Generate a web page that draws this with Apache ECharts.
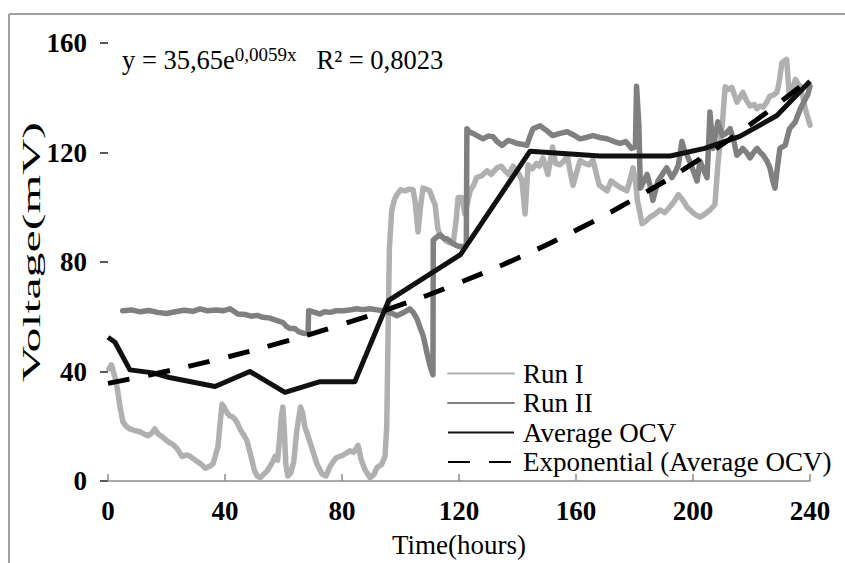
<!DOCTYPE html>
<html>
<head>
<meta charset="utf-8">
<script src="https://cdn.jsdelivr.net/npm/echarts@6/dist/echarts.min.js"></script>
<style>
  html, body { margin: 0; padding: 0; background: #fff; }
  #chart { width: 845px; height: 563px; }
</style>
</head>
<body>
<div id="chart"></div>
<script>
// ---------- data ----------
const xTicks = [0, 40, 80, 120, 160, 200, 240];
const yTicks = [0, 40, 80, 120, 160];

const runIHours = [0.3,1.2,2.4,3.3,4.1,5.1,6.2,7.5,9,10.9,12.3,13.7,15,16,17.3,18.5,20.5,22,23.6,25.3,27,28,30.4,32,33.2,35,36,37.6,38.4,39,39.6,40,41,41.7,42.5,43.4,44.3,45.1,46.3,47.5,48.4,49.2,50,51,52,53,54.3,55.4,56.3,57.1,58,58.6,59.3,59.8,60.3,60.8,61.5,62.5,63.5,64.5,65.2,65.8,66.5,67.3,68.5,70,71.5,73.2,74.5,76,78,80.3,82.7,84,85.5,86.5,87.9,89.6,91,92,93.5,94.7,95.3,95.7,96.2,97,98,98.8,100,101.5,103,104.3,105,106,106.8,107.7,109,110,111,111.8,112.8,113.5,114.5,115.9,117,118,119,119.7,121,122,123,123.8,125,126,127.8,129.6,131,133,134.5,135.7,137,138.5,140,141.5,142.6,143.6,145,146.5,147.5,148.7,150.4,152,153,154.5,156,157,158,159,160,161.4,163,164.5,165.8,167,168,170.6,172,174,175.5,177.4,178.5,179.5,180.3,181,182.6,184,185.3,187,188.7,190.3,192,193.5,195,196.6,198,199,200.5,202.4,204,205.8,207.5,208.5,209.3,210,211,212,213.3,215,216,217,218.3,219.5,221,221.9,223,224,225.3,226.3,227.5,228.7,229.5,230.4,231.3,232,232.5,233,234,235,236,236.7,237.6,238.4,239.2,240];
const runIVoltage = [41,42.4,37.8,33,27,21.6,20,19,18.5,18,17.2,16.5,17.5,19,17,16.2,14.4,13.5,11.9,9,9.5,9,7.2,6,4.7,5.5,6.5,12.6,22,28,27.2,26.2,24.5,23.7,23.5,22.6,21,19,17,14.7,11,7.6,4,1.8,1.2,2.2,3.5,5.4,7,9,7.6,15,24,27,18,6,1.8,3,7,18,23,27,25,19.8,16,11,6,2.5,1.8,5.5,8.5,9.4,11,10.5,13,8,4,1.2,2.5,5,6,9,20,50,85,98.9,103,104.6,106.4,106,106.6,106.4,102,91,100,107,106.5,106,103,101,92,90,89,87.4,87,86.7,95,103.6,103.6,97.5,102,106,108,110.8,111.5,113.3,112,114.4,115,113.3,112,115,113,110,97.5,115.5,114,116,115,118,112,122,116,115.5,117,119,113,108,112,117,116,115.5,117.3,112,108,106,109.6,108,107,106,110,114.4,110,102.5,94,95,96.4,97.5,99,98,100,102,104.6,102.5,100,99,97.5,96.4,97.5,99,101,115.4,124,130,144,143,143.8,138.4,140,142,139,137,137.5,136,137,136.6,138.5,140.6,141,142,146,152.8,153.5,154,147,139.5,143,146.7,145,144.2,140,136,133,130];

const runIIHours = [5,8,11,14,17,20,23,26,29,31.5,34,37,39.5,41.7,43,44.4,47,49,51,53,55.4,57.8,59.8,61,62.2,63.9,65.3,66.7,68.4,68.6,69.5,71,72.5,74,76,78,80.3,82.5,85,87,89.6,92,94,96.4,97.6,98.8,100,101,103.2,104.4,105.6,106.7,107.7,108.4,109,110,111.1,111.2,112.3,113.5,114.2,115,115.9,117,118,119.2,120.3,121.5,122.5,122.7,123.5,124.8,126.5,128.2,130,131.6,133,134.7,136.8,138.2,139.8,141.5,143.2,144.3,145.3,147.7,150,152,154.5,157,159,161.4,163.5,165.8,168,170.6,173,175,177,179,180.3,180.7,181.5,182,183,184.3,185.3,186.3,188,189.5,191,192.8,194,195,196.2,197,198,199.7,201.4,202.4,203.5,204.8,205.3,205.8,206.8,207.6,208.5,210,211.3,212.7,214,215,216,217,218.3,219.5,220.7,221.9,223,224,225.2,226.3,227.2,228,228.8,229.7,231.5,233,235,236.7,238.4,239.2,240];
const runIIVoltage = [62.2,62.5,61.8,62.3,61.6,61.2,61.8,62.4,62,62.9,62.2,62.5,62.2,62.9,62,61,60.8,60.2,60.5,59.8,59.5,58.6,57.9,56.5,55.7,55.7,54.5,54,53.8,62.2,62,61.5,61,61.8,61.6,62.2,62.2,62.5,62.9,62.6,62.9,62.5,62.2,61.5,61,60.4,61,61.5,62.9,61.5,59.3,56,53.2,50,47,42.4,38.8,88,89,89.9,89.2,88.5,88.5,87.5,86.7,86,85.6,85.8,86,128.7,127.5,127,126,125,126,125.8,124,122.6,124.4,124,123.3,123,122.6,126,128.7,129.8,128,126.2,127,127.6,126.5,125,125.5,126.2,125.5,125,124,123.3,124,121.5,122,144.2,130,107,109,112,108,102.5,109.6,112,114.4,110.8,113,115.4,124,121,119,114.4,109.6,116.9,114,110.8,122,134.8,121.5,126,131.2,126.2,127,128.7,124,119,120,121.5,120,118,120,121.5,120,119,117,114.4,110,107,114,121.5,122.6,128.7,131.2,136,139.5,141,144.2];

const avgHours = [0,2.4,7.5,15.4,21,36.6,48.5,60.5,72.5,84.4,96,120.5,144.3,168.2,192.2,204,216,228.7,240];
const avgVoltage = [52.5,50.7,40.6,39.5,37.8,34.5,40,32.4,36.3,36.3,66,82.7,120.5,118.7,118.7,121.5,125.9,133.5,146];

// Exponential trendline y = 35.65 e^(0.0059x), values as shown on the chart
const trendHours = [0,20,40,60,80,100,120,140,160,180,200,220,240];
const trendVoltage = [35.65,40.1,45.1,50.8,57.2,64.3,72.4,81.4,91.6,103.1,116.0,130.6,146.9];

const seriesNames = ['Run I', 'Run II', 'Average OCV', 'Exponential (Average OCV)'];
const xTitle = 'Time(hours)';
const yTitle = 'Voltage(mV)';

// ---------- chart ----------
const zip = (xs, ys) => xs.map((x, i) => [x, ys[i]]);
const FONT = 'Liberation Serif, Times New Roman, serif';

const chart = echarts.init(document.getElementById('chart'), null, { renderer: 'svg' });

chart.setOption({
  animation: false,
  backgroundColor: '#ffffff',
  textStyle: { fontFamily: FONT },
  grid: { left: 108, right: 35, top: 43, bottom: 75, containLabel: false },
  xAxis: {
    type: 'value',
    min: xTicks[0], max: xTicks[xTicks.length - 1], interval: 40,
    name: xTitle, nameLocation: 'middle', nameGap: 50,
    nameTextStyle: { fontFamily: FONT, fontSize: 27, color: '#000' },
    axisLine: { show: true, lineStyle: { color: '#8c8c8c', width: 1.5 } },
    axisTick: { show: true, inside: true, length: 7, lineStyle: { color: '#8c8c8c', width: 1.5 } },
    axisLabel: { fontFamily: FONT, fontSize: 27, fontWeight: 'bold', color: '#000', margin: 16 },
    splitLine: { show: false }
  },
  yAxis: {
    type: 'value',
    min: yTicks[0], max: yTicks[yTicks.length - 1], interval: 40,
    axisLine: { show: false },
    axisTick: { show: true, inside: false, length: 8, lineStyle: { color: '#222', width: 1.5 } },
    axisLabel: { fontFamily: FONT, fontSize: 27, fontWeight: 'bold', color: '#000', margin: 21 },
    splitLine: { show: false }
  },
  legend: {
    data: seriesNames,
    orient: 'vertical',
    left: 447, top: 360, padding: 0,
    itemWidth: 66, itemHeight: 14, itemGap: 2.5,
    itemStyle: { opacity: 0 },
    textStyle: { fontFamily: FONT, fontSize: 27, color: '#000', padding: [0, 0, 0, 4] }
  },
  graphic: [
    { type: 'line', shape: { x1: 9, y1: 14, x2: 845, y2: 14 }, style: { stroke: '#a0a0a0', lineWidth: 2 }, silent: true },
    { type: 'line', shape: { x1: 9, y1: 14, x2: 9, y2: 563 }, style: { stroke: '#a0a0a0', lineWidth: 2 }, silent: true },
    {
      type: 'text', x: 32, y: 252, rotation: Math.PI / 2, scaleX: 2.0, scaleY: 1, silent: true,
      style: { text: yTitle, fontFamily: FONT, fontSize: 25, fill: '#000', align: 'center', verticalAlign: 'middle' }
    },
    {
      type: 'text', x: 122, y: 45, silent: true,
      style: {
        text: '{m|y = 35,65e}{s|0,0059x}{m|   R² = 0,8023}',
        fontFamily: FONT, fill: '#000',
        rich: {
          m: { fontFamily: FONT, fontSize: 26.5, lineHeight: 28, fill: '#000', verticalAlign: 'bottom' },
          s: { fontFamily: FONT, fontSize: 19, lineHeight: 19, fill: '#000', verticalAlign: 'top' }
        }
      }
    }
  ],
  series: [
    {
      name: seriesNames[0], type: 'line', data: zip(runIHours, runIVoltage),
      symbol: 'none', smooth: false, z: 2,
      lineStyle: { color: '#b0b0b0', width: 5.5, join: 'round', cap: 'round' },
      itemStyle: { color: '#b0b0b0' }
    },
    {
      name: seriesNames[1], type: 'line', data: zip(runIIHours, runIIVoltage),
      symbol: 'none', smooth: false, z: 3,
      lineStyle: { color: '#808080', width: 5.5, join: 'round', cap: 'round' },
      itemStyle: { color: '#808080' }
    },
    {
      name: seriesNames[2], type: 'line', data: zip(avgHours, avgVoltage),
      symbol: 'none', smooth: false, z: 4,
      lineStyle: { color: '#111111', width: 5, join: 'round' },
      itemStyle: { color: '#111111' }
    },
    {
      name: seriesNames[3], type: 'line', data: zip(trendHours, trendVoltage),
      symbol: 'none', smooth: true, z: 5,
      lineStyle: { color: '#000000', width: 5, type: [22, 19] },
      itemStyle: { color: '#000000' }
    }
  ]
});
</script>
</body>
</html>
